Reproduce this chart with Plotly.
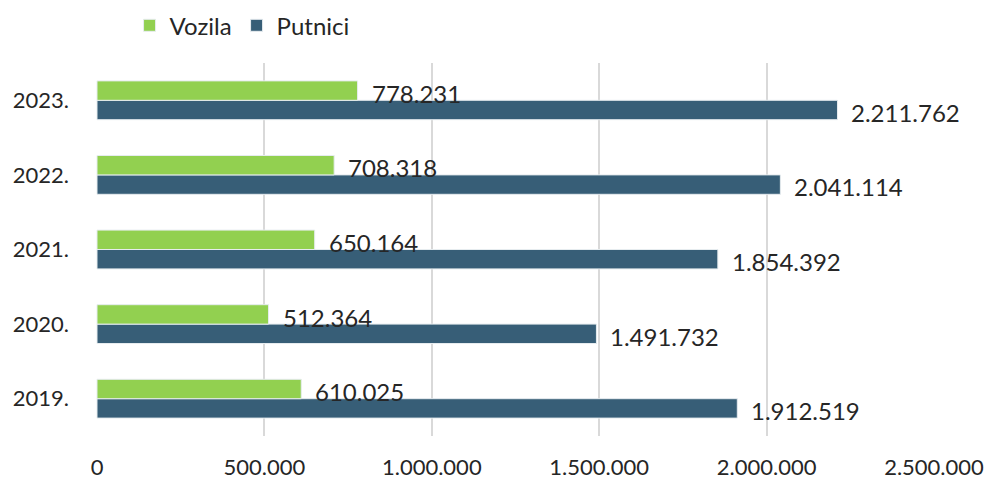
import plotly.graph_objects as go

years = ["2019.", "2020.", "2021.", "2022.", "2023."]
vozila = [610025, 512364, 650164, 708318, 778231]
putnici = [1912519, 1491732, 1854392, 2041114, 2211762]
x_ticks = [0, 500000, 1000000, 1500000, 2000000, 2500000]
x_tick_labels = ["0", "500.000", "1.000.000", "1.500.000", "2.000.000", "2.500.000"]

GREEN = "#92D050"
BLUE = "#375E77"
FONT = "Lato"
TXT = "#262626"


def fmt(v):
    return f"{v:,}".replace(",", ".")


fig = go.Figure()
fig.add_trace(go.Bar(
    y=years, x=putnici, name="Putnici", orientation="h",
    marker=dict(color=BLUE, line=dict(color="#E6ECEF", width=1)),
    legendrank=2,
))
fig.add_trace(go.Bar(
    y=years, x=vozila, name="Vozila", orientation="h",
    marker=dict(color=GREEN, line=dict(color="#E6ECEF", width=1)),
    legendrank=1,
))

annotations = []
for i, v in enumerate(vozila):
    annotations.append(dict(x=v, y=i, xref="x", yref="y", text=fmt(v), showarrow=False,
                            xanchor="left", yanchor="middle", xshift=12, yshift=7,
                            font=dict(family=FONT, size=24, color=TXT)))
for i, v in enumerate(putnici):
    annotations.append(dict(x=v, y=i, xref="x", yref="y", text=fmt(v), showarrow=False,
                            xanchor="left", yanchor="middle", xshift=12, yshift=-12,
                            font=dict(family=FONT, size=24, color=TXT)))

fig.update_layout(
    width=992, height=482,
    margin=dict(l=96, r=57, t=63, b=46, autoexpand=False),
    paper_bgcolor="white", plot_bgcolor="white",
    barmode="group", bargap=0.48, bargroupgap=0,
    font=dict(family=FONT, color=TXT),
    legend=dict(orientation="h", x=0.04, xanchor="left", y=1.1, yanchor="middle",
                font=dict(family=FONT, size=24, color=TXT), itemclick=False),
    annotations=annotations,
    xaxis=dict(range=[-3000, 2503000], tickvals=x_ticks, ticktext=x_tick_labels,
               showgrid=True, gridcolor="#D9D9D9", gridwidth=1.5,
               zeroline=False, showline=False, ticks="", automargin=False,
               tickfont=dict(family=FONT, size=22, color=TXT),
               ticklabelstandoff=16, fixedrange=True),
    yaxis=dict(type="category", categoryorder="array", categoryarray=years,
               range=[-0.5, 4.5], automargin=False,
               showgrid=False, zeroline=False, showline=False, ticks="",
               tickfont=dict(family=FONT, size=22, color=TXT),
               ticklabelstandoff=26, fixedrange=True),
)

fig.write_html(
    "out.html",
    config={"displayModeBar": False},
    post_script="document.body.style.margin='0';document.body.style.overflow='hidden';",
)
